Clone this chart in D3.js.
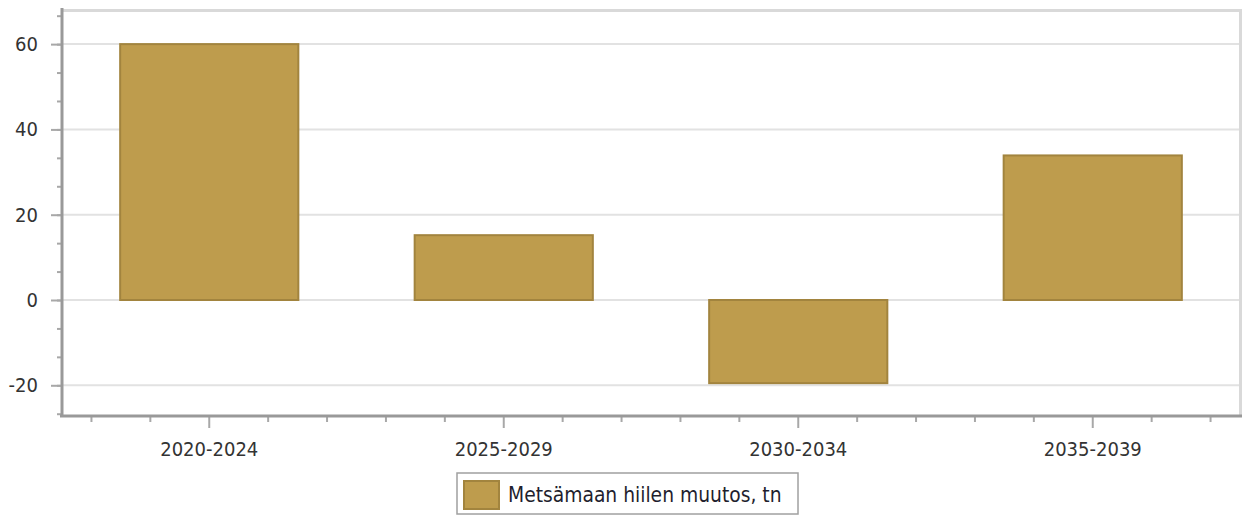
<!DOCTYPE html>
<html>
<head>
<meta charset="utf-8">
<script src="https://cdn.jsdelivr.net/npm/d3@7"></script>
<style>
  body { margin: 0; background: #fff; }
  text { font-family: "DejaVu Sans Condensed", "DejaVu Sans", Verdana, sans-serif; }
</style>
</head>
<body>
<div id="container"></div>
<script>
// Data
let categories = ["2020-2024", "2025-2029", "2030-2034", "2035-2039"];
let values = [60, 15.2, -19.5, 33.9];
let yTickValues = [-20, 0, 20, 40, 60];
let seriesName = "Metsämaan hiilen muutos, tn";

// Width and height
let chart_width = 1242;
let chart_height = 516;
let plot = { left: 62, right: 1240, top: 10, bottom: 416 };

let barFill = "#be9c4d";
let barStroke = "#a2843e";

let svg = d3.select("#container")
  .append("svg")
  .attr("width", chart_width)
  .attr("height", chart_height);

// Scales
let xScale = d3.scaleBand()
  .domain(categories)
  .range([plot.left, plot.right])
  .paddingInner(0.395)
  .paddingOuter(0.1975);

let bandScale = d3.scaleBand()
  .domain(categories)
  .range([plot.left, plot.right]);

let yScale = d3.scaleLinear()
  .domain([-27.2, 68])
  .range([plot.bottom, plot.top]);

// Gridlines
svg.append("g")
  .selectAll("line")
  .data(yTickValues)
  .enter()
  .append("line")
  .attr("x1", plot.left)
  .attr("x2", plot.right)
  .attr("y1", (d) => yScale(d))
  .attr("y2", (d) => yScale(d))
  .attr("stroke", "#e2e2e2")
  .attr("stroke-width", 2);

// Frame on top and right
svg.append("path")
  .attr("d", "M" + plot.left + "," + (plot.top + 0.5) + "H" + (plot.right + 0.5) + "V" + plot.bottom)
  .attr("fill", "none")
  .attr("stroke", "#d9d9d9")
  .attr("stroke-width", 3);

// Bars
svg.append("g")
  .selectAll("rect")
  .data(values)
  .enter()
  .append("rect")
  .attr("x", (d, i) => xScale(categories[i]))
  .attr("width", xScale.bandwidth())
  .attr("y", (d) => yScale(Math.max(0, d)))
  .attr("height", (d) => Math.abs(yScale(d) - yScale(0)))
  .attr("fill", barFill)
  .attr("stroke", barStroke)
  .attr("stroke-width", 2);

// Y axis
let yMinor = d3.range(-4, 11).map((k) => k * (yTickValues[1] - yTickValues[0]) / 3);
let yAxisMinor = d3.axisLeft(yScale).tickValues(yMinor).tickSize(5).tickFormat("");
let yAxis = d3.axisLeft(yScale)
  .tickValues(yTickValues)
  .tickSize(11)
  .tickPadding(13)
  .tickFormat((d) => String(d));

let gyMinor = svg.append("g")
  .attr("transform", "translate(" + plot.left + ",0)")
  .call(yAxisMinor);
gyMinor.select(".domain").remove();
gyMinor.selectAll("line").attr("stroke", "#a8a8a8").attr("stroke-width", 2);

let gy = svg.append("g")
  .attr("transform", "translate(" + plot.left + ",0)")
  .call(yAxis);
gy.select(".domain").remove();
gy.selectAll("line").attr("stroke", "#a8a8a8").attr("stroke-width", 2);
gy.selectAll("text")
  .attr("fill", "#333")
  .style("font-size", "20px");

svg.append("line")
  .attr("x1", plot.left).attr("x2", plot.left)
  .attr("y1", plot.top - 2).attr("y2", plot.bottom + 1)
  .attr("stroke", "#999").attr("stroke-width", 3);

// X axis
let xMinor = [];
categories.forEach((c) => {
  let center = bandScale(c) + bandScale.bandwidth() / 2;
  [-2, -1, 1, 2].forEach((j) => xMinor.push(center + j * bandScale.bandwidth() / 5));
});

svg.append("g")
  .selectAll("line")
  .data(xMinor)
  .enter()
  .append("line")
  .attr("x1", (d) => d).attr("x2", (d) => d)
  .attr("y1", plot.bottom).attr("y2", plot.bottom + 6)
  .attr("stroke", "#a8a8a8").attr("stroke-width", 2);

let xAxis = d3.axisBottom(bandScale).tickSize(12).tickPadding(14);
let gx = svg.append("g")
  .attr("transform", "translate(0," + plot.bottom + ")")
  .call(xAxis);
gx.select(".domain").remove();
gx.selectAll("line").attr("stroke", "#a8a8a8").attr("stroke-width", 2);
gx.selectAll("text")
  .attr("fill", "#333")
  .style("font-size", "20px");

svg.append("line")
  .attr("x1", plot.left - 2).attr("x2", plot.right + 2)
  .attr("y1", plot.bottom).attr("y2", plot.bottom)
  .attr("stroke", "#999").attr("stroke-width", 3);

// Legend
let legend = svg.append("g").attr("id", "legend");
legend.append("rect")
  .attr("x", 457).attr("y", 473)
  .attr("width", 341).attr("height", 41)
  .attr("fill", "#fff")
  .attr("stroke", "#a0a0a0")
  .attr("stroke-width", 1.5);
legend.append("rect")
  .attr("x", 464).attr("y", 481)
  .attr("width", 35).attr("height", 28)
  .attr("fill", barFill)
  .attr("stroke", barStroke)
  .attr("stroke-width", 2);
legend.append("text")
  .attr("x", 508).attr("y", 502)
  .attr("fill", "#1f1f2e")
  .style("font-size", "20.8px")
  .text(seriesName);
</script>
</body>
</html>
